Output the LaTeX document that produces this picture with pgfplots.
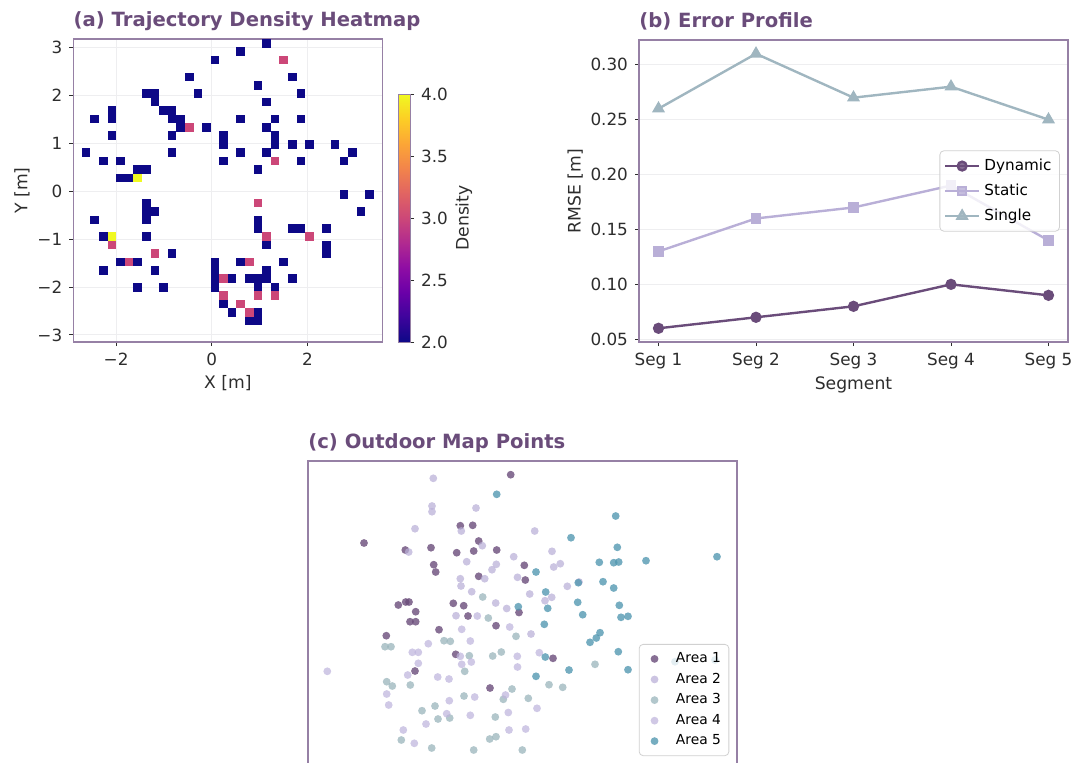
\documentclass[border=0pt]{standalone}
\usepackage{fontspec}
\setmainfont{DejaVu Sans}
\usepackage{pgfplots}
\pgfplotsset{compat=1.18}
\definecolor{titlec}{RGB}{106,76,122}
\definecolor{framec}{RGB}{150,128,165}
\definecolor{labc}{RGB}{45,45,45}
\definecolor{gridc}{RGB}{238,238,240}
\definecolor{dyn}{RGB}{106,76,122}
\definecolor{sta}{RGB}{185,175,215}
\definecolor{sgl}{RGB}{160,182,192}
\definecolor{aone}{RGB}{106,76,122}
\definecolor{atwo}{RGB}{185,175,215}
\definecolor{athree}{RGB}{150,178,185}
\definecolor{afour}{RGB}{190,180,220}
\definecolor{afive}{RGB}{80,150,175}
\newcommand\tickfont{\fontsize{8.4}{10}\selectfont}
\newcommand\labfont{\fontsize{8.6}{10}\selectfont}
\newcommand\titfont{\fontsize{9.8}{11}\selectfont\bfseries}
\pgfplotsset{
  colormap={plasma}{rgb255=(13,8,135) rgb255=(62,4,156) rgb255=(106,0,168) rgb255=(143,13,164) rgb255=(177,42,144) rgb255=(204,71,120) rgb255=(225,100,98) rgb255=(242,132,75) rgb255=(252,166,54) rgb255=(252,206,37) rgb255=(240,249,33)},
  every axis/.append style={
    scale only axis,
    axis line style={draw=framec, line width=0.7pt},
    tick style={draw=labc, line width=0.5pt},
    tick align=outside,
    major tick length=2pt,
    tick label style={font=\tickfont, text=labc},
    label style={font=\labfont, text=labc},
    /pgf/number format/assume math mode=true,
  },
  mytitle/.style={title style={at={(0,1)}, anchor=base west, yshift=0.5pt, inner sep=0pt, font=\titfont, text=titlec}},
  dotmark/.style 2 args={only marks, mark=*, mark size=1.95pt, mark options={draw opacity=0, fill=#1, fill opacity=#2}},
}
\begin{document}
\begin{tikzpicture}
\path[use as bounding box] (0,0) rectangle (538pt,-381pt);
% (a) heatmap
\begin{axis}[
  name=heat, at={(36.65pt,-19.5pt)}, anchor=north west,
  width=154.5pt, height=151.5pt,
  xmin=-2.894, xmax=3.566, ymin=-3.146, ymax=3.167,
  xtick={-2,0,2}, xticklabels={−2,0,2},
  ytick={-3,-2,-1,0,1,2,3}, yticklabels={−3,−2,−1,0,1,2,3},
  xtick pos=bottom, ytick pos=left,
  grid=major, major grid style={gridc, line width=0.5pt},
  xlabel={X [m]}, ylabel={Y [m]},
  xlabel style={yshift=2pt}, ylabel style={yshift=-3pt},
  mytitle, title={(a) Trajectory Density Heatmap},
  colormap name=plasma, point meta min=2, point meta max=4,
  colorbar,
  colorbar style={at={(parent axis.south east)}, anchor=south west, xshift=-0.5pt,
    width=5.85pt, height=124pt, ytick={2,2.5,3,3.5,4}, yticklabels={2.0,2.5,3.0,3.5,4.0},
    ytick pos=right, ylabel={Density}, ylabel style={yshift=3pt},
    axis line style={draw=framec, line width=0.5pt}},
]
\addplot[scatter, only marks, mark=square*, mark size=2.15pt, scatter src=explicit,
  scatter/use mapped color={draw opacity=0, fill=mapped color}] table[meta=v] {
x y v
0.068 2.728 2
-0.471 2.378 2
-0.291 2.027 2
-1.368 2.027 2
-1.189 2.027 2
-1.189 1.852 2
-2.086 1.677 2
-2.086 1.501 2
-1.009 1.677 2
-0.830 1.677 2
-2.445 1.501 2
-0.830 1.501 2
-0.650 1.501 2
-0.650 1.326 2
-0.471 1.326 3
-0.112 1.326 2
-2.086 1.151 2
-0.830 1.151 2
0.248 1.151 2
0.248 0.975 2
-2.625 0.800 2
-0.830 0.800 2
-2.266 0.625 2
-1.907 0.625 2
0.248 0.625 2
-1.548 0.449 2
-1.368 0.449 2
-1.907 0.274 2
-1.727 0.274 2
-1.548 0.274 4
1.145 3.079 2
0.607 2.904 2
1.504 2.728 3
1.684 2.378 2
0.966 2.202 2
1.863 2.027 2
1.145 1.852 2
0.607 1.501 2
1.325 1.501 2
1.863 1.501 2
1.145 1.326 2
1.325 1.151 2
1.325 0.975 2
1.684 0.975 2
2.043 0.975 2
2.581 0.975 2
0.607 0.800 2
1.145 0.800 2
2.940 0.800 2
1.325 0.625 3
1.863 0.625 2
2.761 0.625 2
0.966 0.449 2
-1.368 -0.252 2
-1.368 -0.427 2
-1.189 -0.427 2
-1.368 -0.602 2
-2.445 -0.602 2
-2.266 -0.953 2
-2.086 -0.953 4
-1.368 -0.953 2
-2.086 -1.128 3
-1.189 -1.303 3
-0.830 -1.303 2
-1.907 -1.479 2
-1.727 -1.479 3
-1.548 -1.479 2
-2.266 -1.654 2
-1.189 -1.654 2
0.068 -1.479 2
0.068 -1.654 2
0.068 -1.829 2
0.248 -1.829 3
0.068 -2.005 2
-1.548 -2.005 2
-1.009 -2.005 2
0.248 -2.180 3
0.248 -2.355 2
2.761 -0.076 2
3.299 -0.076 2
0.966 -0.252 3
3.120 -0.427 2
0.966 -0.602 2
0.966 -0.778 2
1.684 -0.778 2
1.863 -0.778 2
2.402 -0.778 2
1.145 -0.953 3
2.043 -0.953 3
1.145 -1.128 2
2.402 -1.128 2
2.402 -1.303 2
0.607 -1.479 2
0.786 -1.479 3
1.504 -1.479 2
1.145 -1.654 2
0.427 -1.829 2
0.786 -1.829 2
0.966 -1.829 2
1.145 -1.829 2
1.684 -1.829 2
0.966 -2.005 2
1.325 -2.005 2
0.966 -2.180 3
1.325 -2.180 3
0.607 -2.355 3
0.427 -2.531 2
0.786 -2.531 3
0.966 -2.531 2
0.786 -2.706 2
0.966 -2.706 2
};
\end{axis}
% (b) error profile
\begin{axis}[
  name=err, at={(319.5pt,-20pt)}, anchor=north west,
  width=214.5pt, height=151pt,
  xmin=-0.2, xmax=4.2, ymin=0.0475, ymax=0.3225,
  xtick={0,1,2,3,4}, xticklabels={Seg 1,Seg 2,Seg 3,Seg 4,Seg 5},
  ytick={0.05,0.10,0.15,0.20,0.25,0.30}, yticklabels={0.05,0.10,0.15,0.20,0.25,0.30},
  xtick pos=bottom, ytick pos=left,
  ymajorgrids, major grid style={gridc, line width=0.6pt},
  xlabel={Segment}, ylabel={RMSE [m]},
  xlabel style={yshift=3pt}, ylabel style={yshift=-3pt},
  mytitle, title={(b) Error Profile},
  legend style={at={(0.981,0.5)}, anchor=east, draw=black!18, rounded corners=2pt,
    fill=white, fill opacity=0.8, text opacity=1, font=\fontsize{7.6}{9}\selectfont,
    row sep=1.2pt, inner sep=2pt},
  legend cell align=left,
]
\addplot[dyn, line width=1.2pt, mark=*, mark size=2.2pt, mark options={solid}] coordinates {(0,0.06) (1,0.07) (2,0.08) (3,0.10) (4,0.09)};
\addlegendentry{Dynamic}
\addplot[sta, line width=1.2pt, mark=square*, mark size=2pt] coordinates {(0,0.13) (1,0.16) (2,0.17) (3,0.19) (4,0.14)};
\addlegendentry{Static}
\addplot[sgl, line width=1.2pt, mark=triangle*, mark size=2.6pt] coordinates {(0,0.26) (1,0.31) (2,0.27) (3,0.28) (4,0.25)};
\addlegendentry{Single}
\end{axis}
% (c) outdoor map points
\begin{axis}[
  name=sc, at={(154pt,-230.5pt)}, anchor=north west,
  width=214.5pt, height=160pt,
  xmin=308, xmax=737, ymin=-781, ymax=-461,
  xtick=\empty, ytick=\empty,
  mytitle, title={(c) Outdoor Map Points},
  legend style={at={(0.982,0.078)}, anchor=south east, draw=black!18, rounded corners=2pt,
    fill=white, fill opacity=0.8, text opacity=1, font=\fontsize{6.9}{8}\selectfont,
    row sep=-0.3pt, inner sep=2pt},
  legend cell align=left,
  legend image code/.code={\path (0pt,0pt) (14pt,0pt); \draw[#1] plot coordinates {(5.5pt,0pt)};},
]
\addplot[dotmark={aone}{0.8}] coordinates {
(510.7,-474.7) (460.3,-525.7) (472.7,-525.3) (364,-543) (405.3,-550) (431,-547.7) (456.7,-552.7) (473.7,-551) (478.7,-541) (496.7,-550) (433.7,-564.7) (435.7,-572) (478.7,-576.3) (398.3,-605) (405.7,-602) (409,-602) (453.3,-603.3) (463.7,-605.7) (519,-612.5) (415.7,-611.7) (410,-621.7) (415.7,-621.7) (468,-616) (496,-625.7) (439,-629.7) (386.3,-635.7) (455.7,-654.3) (415,-671) (490,-688) (524.3,-565.3) (525.3,-580) (553,-658.3)
};
\addlegendentry{Area 1}
\addplot[dotmark={atwo}{0.72}] coordinates {
(433.3,-478.3) (432,-506) (432,-511.7) (476,-508) (415,-528.7) (461.3,-531) (408.7,-552) (482.3,-545.7) (513.7,-556.7) (466.7,-561.7) (496.3,-564.3) (492,-569.7) (517.5,-577.3) (484.7,-578.7) (460.3,-578.7) (461,-586) (471.7,-591.7) (495.7,-603) (506.7,-608.5) (456,-615.7) (534.7,-531) (552,-551.3) (553.7,-567) (560.3,-563.7) (567.3,-586.3) (579,-582) (529.7,-594) (545,-600.7) (551.7,-597.3) (531,-634)
};
\addlegendentry{Area 2}
\addplot[dotmark={athree}{0.72}] coordinates {
(482.7,-597) (488.3,-618) (516,-636.3) (385,-646.7) (391,-646.7) (444,-640.7) (450.3,-641.3) (469.3,-655.7) (492.7,-656) (501.3,-652) (464.7,-671.3) (386.7,-681.7) (392.3,-686) (410.3,-685) (512,-689) (503.3,-699.3) (464,-696) (422,-710.7) (435,-706) (449.7,-718) (438,-719) (495.3,-717) (401.3,-740) (431.7,-748) (473.7,-750) (489.7,-739) (496,-736.7) (522.3,-750) (595,-664.3) (549,-684.7) (562.7,-687.3) (528.3,-698.3)
};
\addlegendentry{Area 3}
\addplot[dotmark={afour}{0.72}] coordinates {
(477.3,-616) (509.7,-627) (461.7,-629.3) (470.3,-641) (428.3,-643.7) (412.3,-652.3) (418.3,-652.3) (460.3,-656.3) (517.3,-656.3) (418.3,-663.3) (461.7,-664.3) (471.3,-662) (517.5,-667) (407.7,-675) (327.3,-671.3) (437.7,-677) (449,-679) (386.7,-694) (388.7,-705) (505.5,-695) (474.7,-697) (449.3,-700.7) (446.7,-713.7) (426,-724) (470.3,-715.3) (508.3,-712.5) (403.3,-730) (414.3,-743.3) (509,-730) (539.3,-652.7) (537,-708.3) (525.7,-729)
};
\addlegendentry{Area 4}
\addplot[dotmark={afive}{0.78}] coordinates {
(496.7,-494.3) (518.3,-606.7) (615.7,-516) (571,-537.7) (617.3,-547.3) (599.3,-562.3) (613.7,-562.7) (618.7,-562) (646,-560.7) (717,-556.7) (536,-572) (578.3,-582.7) (603,-581.7) (613.7,-588) (545.7,-592) (577.7,-602.3) (619.3,-605.3) (547.7,-608.3) (582.7,-614.7) (621,-617.3) (628,-616.3) (544.3,-624.3) (600,-632.7) (596.3,-638) (590,-642.3) (545.3,-657) (618.3,-651.7) (569,-670) (628,-669.7) (536,-676.3) (675,-661.7) (715,-660)
};
\addlegendentry{Area 5}
\end{axis}
\end{tikzpicture}
\end{document}
